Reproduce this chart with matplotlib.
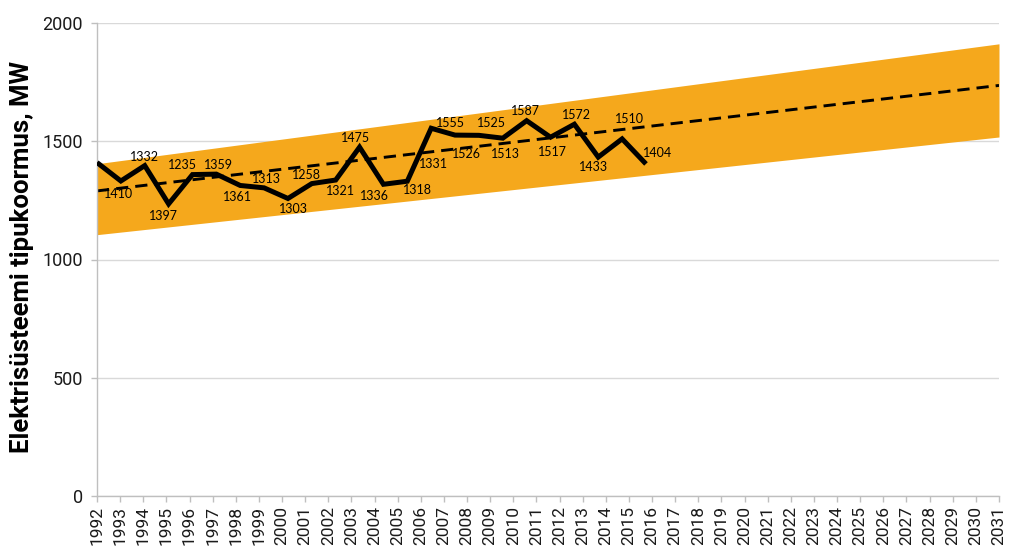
import matplotlib
matplotlib.use("Agg")
import matplotlib.pyplot as plt

# ---- data ----
years = list(range(1992, 2032))
peak_values = [1410, 1332, 1397, 1235, 1359, 1361, 1313, 1303, 1258, 1321, 1336, 1475,
               1318, 1331, 1555, 1526, 1525, 1513, 1587, 1517, 1572, 1433, 1510, 1404]
band_years = [1992, 2031]
band_low = [1105, 1518]
band_high = [1405, 1912]
trend_years = [1992, 2031]
trend_values = [1290, 1736]
y_ticks = [0, 500, 1000, 1500, 2000]
ylabel = "Elektrisüsteemi tipukoormus, MW"

# label offsets in pixels (dx right, dy down) relative to each point -- style only
label_offsets = [(22, 31), (24, -24), (19, 50), (14, -39), (26, -10), (21, 23), (26, -6),
                 (29, 21), (19, -23), (29, 7), (39, 16), (-4, -9), (34, 6), (26, -17),
                 (19, -5), (11, 19), (13, -12), (3, 16), (-1, -10), (2, 15), (2, -9),
                 (-5, 10), (7, -20), (12, -11)]

W, H = 1009, 550
fig = plt.figure(figsize=(W / 100, H / 100), dpi=100)
left, right, top, bottom = 97, 999, 23, 496
ax = fig.add_axes([left / W, (H - bottom) / H, (right - left) / W, (bottom - top) / H])

orange = "#F5A81C"
grid_c = "#D9D9D9"
spine_c = "#BFBFBF"

ax.fill_between(band_years, band_low, band_high, color=orange, lw=0, zorder=1)
ax.plot(trend_years, trend_values, color="black", lw=2.1, dashes=(4.2, 2.4), zorder=2)

ax.set_xlim(1992, 2031)
ax.set_ylim(0, 2000)
ax.set_yticks(y_ticks)
ax.set_xticks(years)
ax.set_xticklabels([str(y) for y in years], rotation=90, fontsize=12.5, family="Roboto",
                   color="#1a1a1a")
ax.set_yticklabels([str(v) for v in y_ticks], fontsize=13, family="Roboto", color="#1a1a1a")
ax.tick_params(axis="x", length=4, color=spine_c, width=1, pad=3)
ax.tick_params(axis="y", length=4, color=spine_c, width=1, pad=6)
ax.yaxis.grid(True, color=grid_c, lw=1)
ax.set_axisbelow(True)
for s in ["top", "right"]:
    ax.spines[s].set_visible(False)
for s in ["left", "bottom"]:
    ax.spines[s].set_color(spine_c)
    ax.spines[s].set_linewidth(1)

# the measured-load line sits on its own, slightly wider category scale
ax2 = ax.twiny()
ax2.set_xlim(0, 37.79)
ax2.set_ylim(0, 2000)
ax2.axis("off")
idx = list(range(len(peak_values)))
ax2.plot(idx, peak_values, color="black", lw=3.6, solid_joinstyle="miter",
         solid_capstyle="butt", zorder=3)
for i, v in enumerate(peak_values):
    dx, dy = label_offsets[i]
    ax2.annotate(str(v), xy=(i, v), xytext=(dx, -dy), textcoords="offset pixels",
                 ha="center", va="center", fontsize=9, family="Lato", color="black",
                 zorder=4)

fig.text(22 / W, 1 - 257 / H, ylabel, rotation=90, ha="center", va="center",
         fontsize=18.5, fontweight="bold", family="Roboto", color="black")

fig.savefig("out.png", dpi=100)
